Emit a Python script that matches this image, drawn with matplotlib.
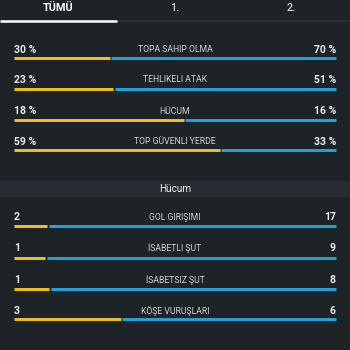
import matplotlib
matplotlib.use("Agg")
import matplotlib.pyplot as plt
from matplotlib.patches import Rectangle

plt.rcParams['font.family'] = ['Roboto', 'DejaVu Sans']

# --- data ---
tabs = ["TÜMÜ", "1.", "2."]

pct_labels = ["TOPA SAHIP OLMA", "TEHLIKELI ATAK", "HÜCUM", "TOP GÜVENLI YERDE"]
pct_home = [30, 23, 18, 59]
pct_away = [70, 51, 16, 33]

section_title = "Hücum"
att_labels = ["GOL GIRIŞIMI", "İSABETLI ŞUT", "İSABETSIZ ŞUT", "KÖŞE VURUŞLARI"]
att_home = [2, 1, 1, 3]
att_away = [17, 9, 8, 6]

# --- style ---
BG = "#1d2327"
BAND = "#262c31"
YELLOW = "#f2c416"
BLUE = "#1fa6dd"
TXT = "#eceeef"
LBL = "#d0d3d4"

X0, X1 = 14, 336
GAP = 1.5

fig = plt.figure(figsize=(3.5, 3.5), dpi=100)
fig.patch.set_facecolor(BG)
ax = fig.add_axes([0, 0, 1, 1])
ax.set_xlim(0, 350)
ax.set_ylim(350, 0)
ax.axis('off')
ax.set_facecolor(BG)

# tabs
tab_x = [58, 175, 291]
for i, (t, x) in enumerate(zip(tabs, tab_x)):
    ax.text(x, 8, t, color="white" if i == 0 else LBL, fontsize=7.8,
            fontweight='bold' if i == 0 else 'medium', ha='center', va='center')
ax.hlines(21, 0, 350, color="#2c3236", lw=1.2)
ax.hlines(21, 0, 117, color="white", lw=1.8)


def draw_row(y_txt, y_bar, label, home, away, suffix):
    ax.text(X0, y_txt, f"{home}{suffix}", color=TXT, fontsize=7.5, fontweight='bold',
            ha='left', va='center')
    ax.text(X1, y_txt, f"{away}{suffix}", color=TXT, fontsize=7.5, fontweight='bold',
            ha='right', va='center')
    ax.text(175, y_txt, label, color=LBL, fontsize=6.2, ha='center', va='center')
    split = X0 + (X1 - X0) * home / (home + away)
    ax.hlines(y_bar, X0, split - GAP / 2, color=YELLOW, lw=2.1, capstyle='butt')
    ax.hlines(y_bar, split + GAP / 2, X1, color=BLUE, lw=2.1, capstyle='butt')


pct_rows = [(50, 58), (80, 89), (111, 120), (142, 150)]
for (yt, yb), lab, h, a in zip(pct_rows, pct_labels, pct_home, pct_away):
    draw_row(yt, yb, lab, h, a, " %")

# section header band
ax.add_patch(Rectangle((0, 181), 350, 15.5, color=BAND, lw=0))
ax.text(175, 188.5, section_title, color=TXT, fontsize=7.2, ha='center', va='center')

att_rows = [(217, 226), (248, 258), (280, 289), (311, 319)]
for (yt, yb), lab, h, a in zip(att_rows, att_labels, att_home, att_away):
    draw_row(yt, yb, lab, h, a, "")

fig.savefig("out.png", dpi=100, facecolor=BG)
